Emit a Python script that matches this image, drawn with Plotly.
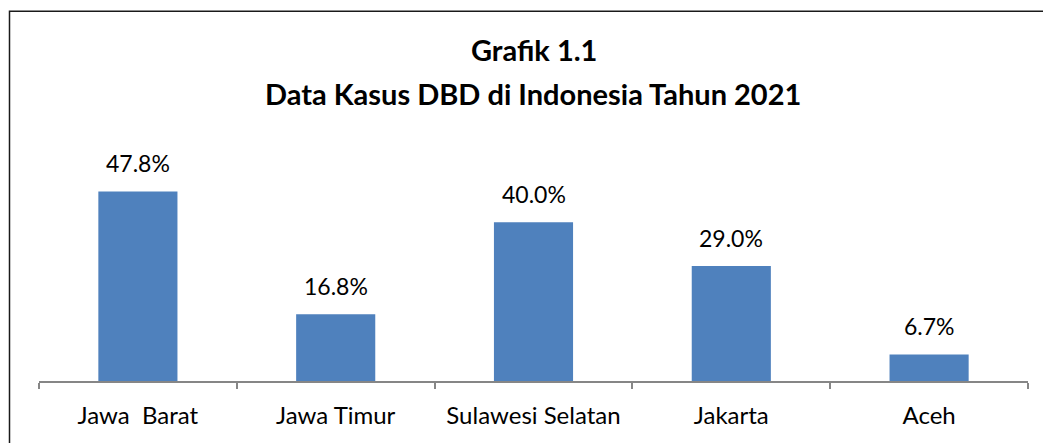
import plotly.graph_objects as go

categories = ["Jawa  Barat", "Jawa Timur", "Sulawesi Selatan", "Jakarta", "Aceh"]
values = [47.8, 16.8, 40.0, 29.0, 6.7]
labels = ["47.8%", "16.8%", "40.0%", "29.0%", "6.7%"]
title_line1 = "Grafik 1.1"
title_line2 = "Data Kasus DBD di Indonesia Tahun 2021"

W, H = 1051, 443
OFF = 8  # page body margin offset
# target screen positions
axis_y, top_y, left_x, right_x = 381, 142.5, 39, 1028
ml = left_x - OFF
mr = W - (right_x - OFF)
mt = top_y - OFF
mb = H - (axis_y - OFF)
plot_h = H - mt - mb
plot_w = W - ml - mr

FONT = "Lato, Carlito, Calibri, sans-serif"

fig = go.Figure(go.Bar(
    x=categories, y=values, width=0.4,
    marker=dict(color="#4F81BD", line=dict(width=0)),
    hoverinfo="skip",
))

annotations = []
for c, v, t in zip(categories, values, labels):
    annotations.append(dict(x=c, y=v, xref="x", yref="y", text=t, showarrow=False,
                            yanchor="middle", yshift=28,
                            font=dict(family=FONT, size=23, color="#000000")))

def py(Y):
    return (axis_y - Y) / plot_h

def px(X):
    return (X - left_x) / plot_w

annotations.append(dict(x=px(534), y=py(49), xref="paper", yref="paper", text="<b>" + title_line1 + "</b>",
                        showarrow=False, yanchor="middle", xanchor="center",
                        font=dict(family=FONT, size=29, color="#000000")))
annotations.append(dict(x=px(533), y=py(93), xref="paper", yref="paper", text="<b>" + title_line2 + "</b>",
                        showarrow=False, yanchor="middle", xanchor="center",
                        font=dict(family=FONT, size=29, color="#000000")))

fig.update_layout(
    width=W, height=H,
    margin=dict(l=ml, r=mr, t=mt, b=mb, pad=0),
    paper_bgcolor="white", plot_bgcolor="white",
    showlegend=False,
    annotations=annotations,
    shapes=[dict(type="rect", xref="paper", yref="paper",
                 x0=px(9.5), x1=px(W + 30),
                 y0=py(H + 30), y1=py(10.5),
                 line=dict(color="#1a1a1a", width=1.5), fillcolor="rgba(0,0,0,0)", layer="above")],
    xaxis=dict(
        showline=True, linecolor="#868686", linewidth=1.5,
        ticks="outside", tickson="boundaries", ticklen=6, tickcolor="#868686", tickwidth=1.5,
        showgrid=False, zeroline=False,
        tickfont=dict(family=FONT, size=24, color="#000000"),
        ticklabelstandoff=12,
        fixedrange=True,
    ),
    yaxis=dict(range=[0, 60], visible=False, showgrid=False, zeroline=False, fixedrange=True),
)

fig.write_html("out.html")
